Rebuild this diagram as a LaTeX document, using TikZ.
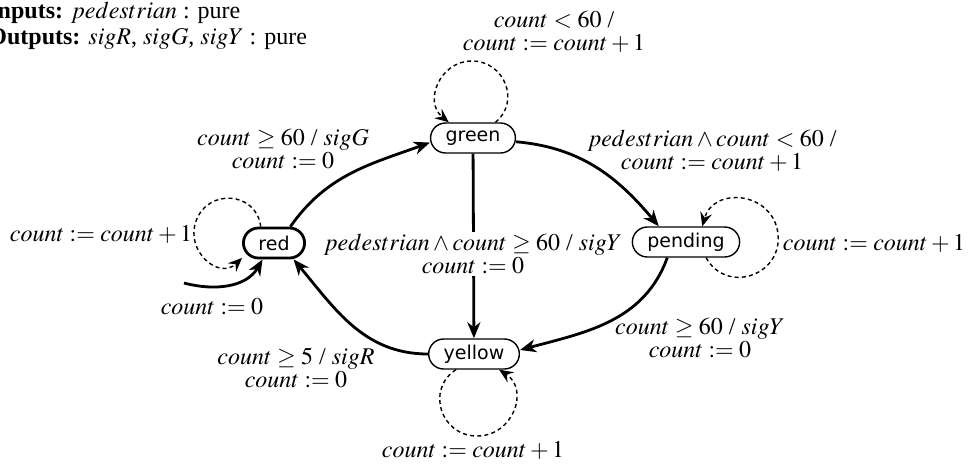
\documentclass[tikz,border=0pt]{standalone}
\usepackage{mathptmx}
\usepackage[no-math]{fontspec}
\setmainfont{Liberation Serif}
\newfontfamily\statefont{DejaVu Sans}
\usepackage{tikz}
\usetikzlibrary{positioning}
\usetikzlibrary{arrows.meta}
\usetikzlibrary{calc}

\begin{document}
\begin{tikzpicture}[x=0.5pt,y=0.5pt]
   \tikzstyle{state}=[draw,rectangle,rounded corners=7.5pt,line width=0.7pt,minimum height=15pt,inner xsep=7.5pt,inner ysep=0pt,font=\statefont\fontsize{9.5}{10}\selectfont];
   \tikzstyle{trans}=[line width=1.4pt,-{Stealth[length=8pt,width=6.5pt,inset=2.5pt]}];
   \tikzstyle{selfloop}=[line width=0.7pt,dash pattern=on 2pt off 1.6pt,-{Stealth[length=7pt,width=6pt,inset=2.5pt]}];
   \tikzstyle{lbl}=[align=center,inner sep=1pt,font=\fontsize{12}{11.5}\selectfont];
   \useasboundingbox (0,0) rectangle (971,463);
   % inputs and outputs
   \node[align=left,anchor=north west,inner sep=0pt,font=\fontsize{12}{13}\selectfont] (io) at (-12,461)
      {\textbf{Inputs:} $pedestrian$ : pure\\ \textbf{Outputs:} $sigR$, $sigG$, $sigY$ : pure};
   % states
   \node[state,line width=1.4pt] (red) at (274,220) {red};
   \foreach \s/\x/\y in {green/473/325, pending/686/221, yellow/474/109}
      \node[state] (\s) at (\x,\y) {\s};
   % transitions
   \coordinate (init) at (184,180);
   \draw[trans] (init) to[out=-15,in=240] (red.-125);
   \draw[trans] (red.45) to[out=55,in=200] (green.186);
   \draw[trans] (green.-5) to[out=-5,in=130] (pending.150);
   \draw[trans] (green) -- (yellow);
   \draw[trans] (pending.-140) to[out=-110,in=15] (yellow.5);
   \draw[trans] (yellow.180) to[out=180,in=-50] (red.-40);
   % self loops
   \coordinate (gtop) at (472,402);
   \draw[selfloop] (green.35) to[out=39,in=0,looseness=1.27] (gtop) to[out=180,in=141,looseness=1.27] (green.147);
   \coordinate (rleft) at (196,242);
   \draw[selfloop] (red.129) to[out=97,in=70,looseness=1.39] (rleft) to[out=250,in=224,looseness=1.39] (red.205);
   \coordinate (pright) at (778,229);
   \draw[selfloop] (pending.-38) to[out=-61,in=276,looseness=1.42] (pright) to[out=96,in=74,looseness=1.42] (pending.44);
   \coordinate (ybot) at (477,27);
   \draw[selfloop] (yellow.221) to[out=213,in=180,looseness=1.33] (ybot) to[out=0,in=-33,looseness=1.33] (yellow.-32);
   % labels
   \node[lbl] (lgreen) at (554,431) {$count < 60$ /\\ $count := count + 1$};
   \node[lbl] (lrg) at (283,314) {$count \geq 60$ / $sigG$\\ $count := 0$};
   \node[lbl] (lgp) at (712,312) {$pedestrian \wedge count < 60$ /\\ $count := count + 1$};
   \node[lbl] (lred) at (101,229) {$count := count + 1$};
   \node[lbl] (linit) at (212,156) {$count := 0$};
   \node[lbl,fill=white] (lgy) at (473,209) {$pedestrian \wedge count \geq 60$ / $sigY$\\ $count := 0$};
   \node[lbl] (lpending) at (874,220) {$count := count + 1$};
   \node[lbl] (lpy) at (700,125) {$count \geq 60$ / $sigY$\\ $count := 0$};
   \node[lbl] (lyr) at (296,95) {$count \geq 5$ / $sigR$\\ $count := 0$};
   \node[lbl] (lyellow) at (473,13) {$count := count + 1$};
\end{tikzpicture}
\end{document}
